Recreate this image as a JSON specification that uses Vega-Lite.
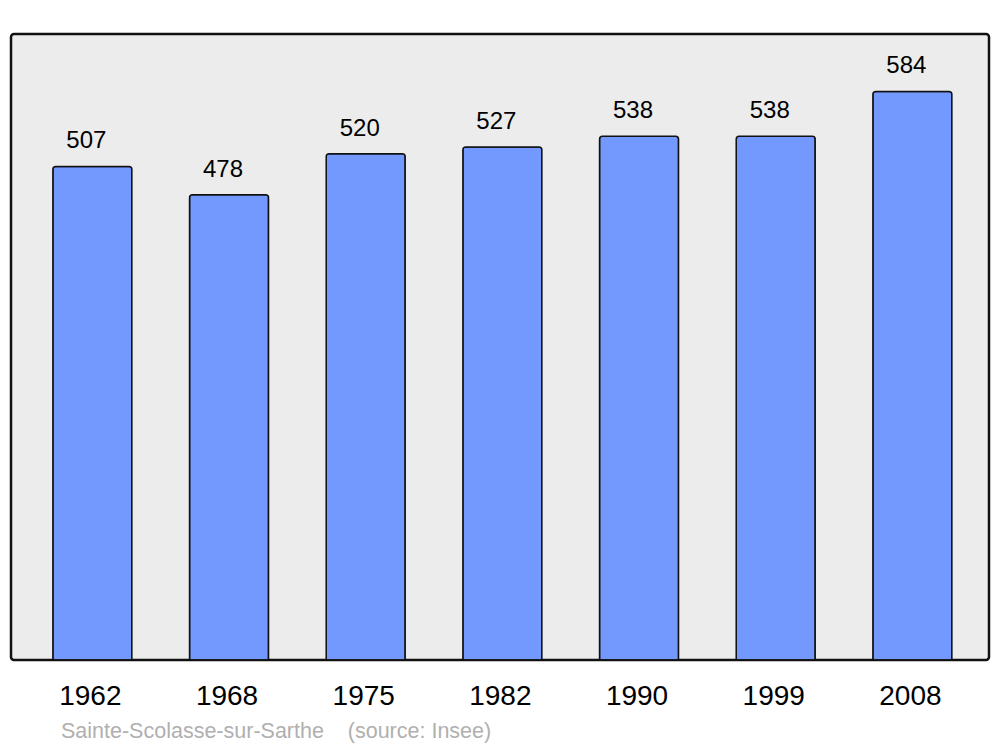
{
  "$schema": "https://vega.github.io/schema/vega-lite/v6.json",
  "width": 978,
  "height": 626,
  "autosize": {"type": "none"},
  "padding": {"left": 11, "top": 34, "right": 11, "bottom": 87},
  "background": "#ffffff",
  "config": {
    "font": "Liberation Sans",
    "view": {"fill": "#ececec", "stroke": "#111111", "strokeWidth": 2.5, "cornerRadius": 3}
  },
  "title": {
    "text": "Sainte-Scolasse-sur-Sarthe\u00a0\u00a0\u00a0\u00a0(source: Insee)",
    "orient": "bottom",
    "anchor": "start",
    "frame": "group",
    "dx": 50,
    "offset": 11,
    "color": "#b0b0b0",
    "fontSize": 21.5,
    "fontWeight": "normal",
    "font": "Liberation Sans"
  },
  "data": {
    "values": [
      {"year": "1962", "pop": 507},
      {"year": "1968", "pop": 478},
      {"year": "1975", "pop": 520},
      {"year": "1982", "pop": 527},
      {"year": "1990", "pop": 538},
      {"year": "1999", "pop": 538},
      {"year": "2008", "pop": 584}
    ]
  },
  "encoding": {
    "x": {
      "field": "year",
      "type": "ordinal",
      "sort": null,
      "scale": {"paddingInner": 0.422, "paddingOuter": 0.289, "align": 0.53},
      "axis": {
        "title": null,
        "domain": false,
        "ticks": false,
        "labelAngle": 0,
        "labelFontSize": 28,
        "labelColor": "#000000",
        "labelFont": "Liberation Sans",
        "labelPadding": 22,
        "labelOffset": -2
      }
    },
    "y": {
      "field": "pop",
      "type": "quantitative",
      "scale": {"domain": [0, 643], "nice": false},
      "axis": null
    }
  },
  "layer": [
    {
      "mark": {"type": "bar", "fill": "#7399ff", "stroke": "#111111", "strokeWidth": 1.5, "cornerRadiusTopLeft": 3, "cornerRadiusTopRight": 3}
    },
    {
      "mark": {"type": "text", "baseline": "alphabetic", "dy": -18, "dx": -6, "fontSize": 24, "color": "#000000", "font": "Liberation Sans"},
      "encoding": {"text": {"field": "pop", "type": "quantitative"}}
    }
  ]
}
